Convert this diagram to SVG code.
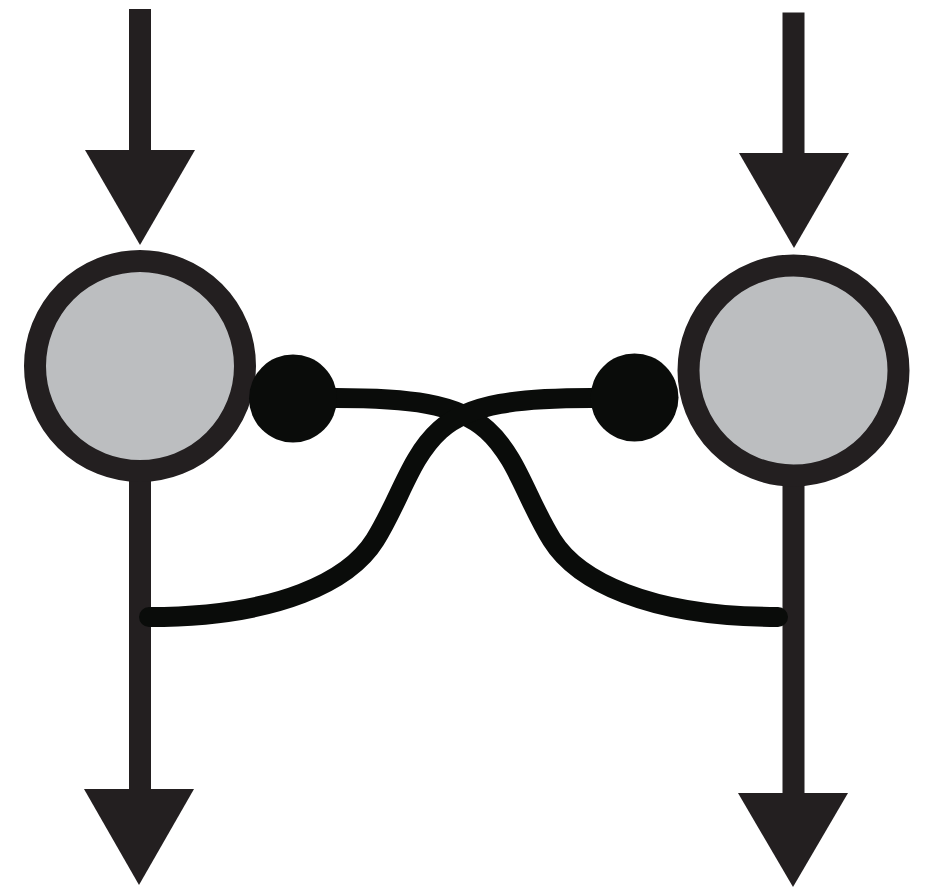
<svg xmlns="http://www.w3.org/2000/svg" width="930" height="888" viewBox="0 0 930 888">
  <style>
    .shaft { stroke: #231f20; stroke-width: 22; fill: none; }
    .head { fill: #231f20; }
    .soma { fill: #bcbec0; stroke: #231f20; stroke-width: 22; }
    .syn { fill: #0a0c0a; }
    .wire { stroke: #0a0c0a; stroke-width: 20; fill: none; stroke-linecap: round; }
  </style>
  <rect width="930" height="888" fill="#ffffff"/>
  <g id="connectors">
    <line class="shaft" x1="140" y1="9" x2="140" y2="152"/>
    <polygon class="head" points="85,150 195,150 140,245"/>
    <line class="shaft" x1="793.5" y1="12.5" x2="793.5" y2="155"/>
    <polygon class="head" points="739,153 849,153 794,248"/>
    <line class="shaft" x1="140" y1="460" x2="140" y2="791"/>
    <polygon class="head" points="84,789 194,789 139,885"/>
    <line class="shaft" x1="793.5" y1="465" x2="793.5" y2="795"/>
    <polygon class="head" points="738,793 848,793 793,887"/>
    <path class="wire" d="M 293 398 L 336 398 C 407 398, 457 403, 487 430 C 517 457, 527 500, 552 540 C 577 580, 647 617, 778 617"/>
    <path class="wire" d="M 634 398 L 591 398 C 520 398, 470 403, 440 430 C 410 457, 400 500, 375 540 C 350 580, 280 617, 149 617"/>
  </g>
  <g id="neuron-left">
    <circle class="soma" cx="140" cy="366" r="105"/>
    <circle class="syn" cx="293" cy="398.5" r="44"/>
  </g>
  <g id="neuron-right">
    <circle class="soma" cx="793.5" cy="370.5" r="105"/>
    <circle class="syn" cx="634.5" cy="397.5" r="44"/>
  </g>
</svg>
